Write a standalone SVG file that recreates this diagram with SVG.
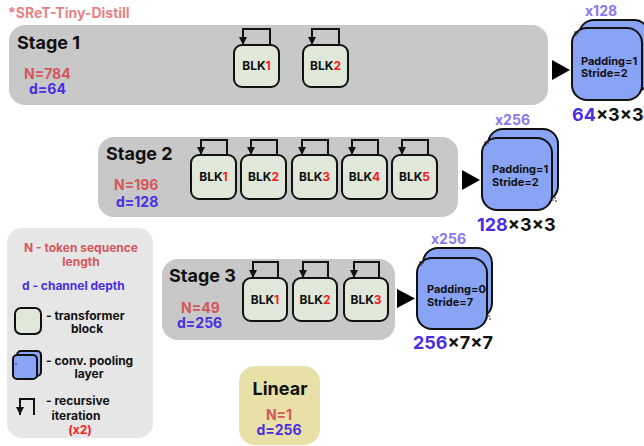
<svg xmlns="http://www.w3.org/2000/svg" width="644" height="446" viewBox="0 0 644 446">
  <style>
    text { font-family: Inter, "Liberation Sans", sans-serif; font-weight: 700; }
    .panel { fill: #c8c8c8; }
    .stage { font-size: 18px; fill: #111; }
    .n { font-size: 14px; fill: #d4575a; }
    .d { font-size: 14px; fill: #4a2ee0; }
    .blk { fill: #dfe8d9; stroke: #111; stroke-width: 2; }
    .blkt { font-size: 12px; fill: #111; text-anchor: middle; }
    .idx { fill: #ff1a1a; }
    .loop { fill: none; stroke: #111; stroke-width: 2; marker-end: url(#ah); }
    .conv { fill: #89a3f5; stroke: #111; stroke-width: 2; }
    .convt { font-size: 11px; fill: #111; }
    .rep { font-size: 14px; fill: #8a78f0; }
    .dim { font-size: 18px; fill: #111; }
    .dimb { fill: #4a2ee0; }
    .tri { fill: #000; }
    .dot { fill: #111; }
    .leg { font-size: 12px; fill: #111; }
    .leg-n { font-size: 12px; fill: #d4575a; }
    .leg-d { font-size: 12px; fill: #4a2ee0; }
    .leg-r { font-size: 12px; fill: #ff1a1a; }
  </style>
  <defs>
    <marker id="ah" markerUnits="userSpaceOnUse" markerWidth="10" markerHeight="10" refX="8" refY="4" orient="auto">
      <path d="M0,0 L8,4 L0,8 Z" fill="#111"/>
    </marker>
  </defs>

  <text x="8" y="18" font-size="14" fill="#e58282">*SReT-Tiny-Distill</text>

  <!-- Stage 1 -->
  <g id="stage1">
    <rect class="panel" x="9" y="25" width="539" height="80" rx="16"/>
    <text class="stage" x="17" y="49">Stage 1</text>
    <text class="n" x="24" y="79">N=784</text>
    <text class="d" x="29" y="94">d=64</text>
  </g>
  <g id="s1-blk1">
    <rect class="blk" x="234" y="45" width="45" height="42" rx="8"/>
    <text class="blkt" x="256.5" y="70">BLK<tspan class="idx">1</tspan></text>
  </g>
  <g id="s1-blk2">
    <rect class="blk" x="303" y="45" width="45" height="42" rx="8"/>
    <text class="blkt" x="325.5" y="70">BLK<tspan class="idx">2</tspan></text>
  </g>
  <g id="pool1">
    <rect class="conv" x="579" y="20" width="70" height="72" rx="15"/>
    <rect class="conv" x="572" y="28" width="70" height="72" rx="15"/>
    <circle class="dot" cx="576" cy="35" r="0.8"/><circle class="dot" cx="578" cy="33" r="0.8"/><circle class="dot" cx="575" cy="32" r="0.8"/>
    <text class="convt" x="581" y="65">Padding=1</text>
    <text class="convt" x="581" y="77">Stride=2</text>
    <text class="rep" x="585" y="16">x128</text>
    <text class="dim" x="572" y="121"><tspan class="dimb">64</tspan>×3×3</text>
  </g>

  <!-- Stage 2 -->
  <g id="stage2">
    <rect class="panel" x="98" y="137" width="360" height="80" rx="16"/>
    <text class="stage" x="106" y="160">Stage 2</text>
    <text class="n" x="114" y="190">N=196</text>
    <text class="d" x="116" y="207">d=128</text>
  </g>
  <g id="s2-blk1">
    <rect class="blk" x="191" y="155" width="45" height="44" rx="8"/>
    <text class="blkt" x="213.5" y="181">BLK<tspan class="idx">1</tspan></text>
  </g>
  <g id="s2-blk2">
    <rect class="blk" x="241" y="155" width="45" height="44" rx="8"/>
    <text class="blkt" x="263.5" y="181">BLK<tspan class="idx">2</tspan></text>
  </g>
  <g id="s2-blk3">
    <rect class="blk" x="292" y="155" width="45" height="44" rx="8"/>
    <text class="blkt" x="314.5" y="181">BLK<tspan class="idx">3</tspan></text>
  </g>
  <g id="s2-blk4">
    <rect class="blk" x="342" y="155" width="45" height="44" rx="8"/>
    <text class="blkt" x="364.5" y="181">BLK<tspan class="idx">4</tspan></text>
  </g>
  <g id="s2-blk5">
    <rect class="blk" x="392" y="155" width="45" height="44" rx="8"/>
    <text class="blkt" x="414.5" y="181">BLK<tspan class="idx">5</tspan></text>
  </g>
  <g id="pool2">
    <rect class="conv" x="488" y="129" width="70" height="72" rx="15"/>
    <rect class="conv" x="482" y="138" width="70" height="72" rx="15"/>
    <circle class="dot" cx="486" cy="145" r="0.8"/><circle class="dot" cx="488" cy="143" r="0.8"/><circle class="dot" cx="485" cy="142" r="0.8"/>
    <circle class="dot" cx="555" cy="198" r="0.8"/><circle class="dot" cx="553" cy="200" r="0.8"/><circle class="dot" cx="556" cy="201" r="0.8"/>
    <text class="convt" x="492" y="173">Padding=1</text>
    <text class="convt" x="492" y="186">Stride=2</text>
    <text class="rep" x="495" y="125">x256</text>
    <text class="dim" x="477" y="231"><tspan class="dimb">128</tspan>×3×3</text>
  </g>

  <!-- Stage 3 -->
  <g id="stage3">
    <rect class="panel" x="162" y="259" width="233" height="81" rx="16"/>
    <text class="stage" x="169" y="282">Stage 3</text>
    <text class="n" x="181" y="313">N=49</text>
    <text class="d" x="177" y="328">d=256</text>
  </g>
  <g id="s3-blk1">
    <rect class="blk" x="243" y="278" width="44" height="43" rx="8"/>
    <text class="blkt" x="265" y="304">BLK<tspan class="idx">1</tspan></text>
  </g>
  <g id="s3-blk2">
    <rect class="blk" x="293" y="278" width="44" height="43" rx="8"/>
    <text class="blkt" x="315" y="304">BLK<tspan class="idx">2</tspan></text>
  </g>
  <g id="s3-blk3">
    <rect class="blk" x="344" y="278" width="44" height="43" rx="8"/>
    <text class="blkt" x="366" y="304">BLK<tspan class="idx">3</tspan></text>
  </g>
  <g id="pool3">
    <rect class="conv" x="423" y="248" width="69" height="70" rx="15"/>
    <rect class="conv" x="417" y="258" width="70" height="71" rx="15"/>
    <circle class="dot" cx="421" cy="265" r="0.8"/><circle class="dot" cx="423" cy="263" r="0.8"/><circle class="dot" cx="420" cy="262" r="0.8"/>
    <circle class="dot" cx="489" cy="316" r="0.8"/><circle class="dot" cx="487" cy="318" r="0.8"/><circle class="dot" cx="490" cy="319" r="0.8"/>
    <text class="convt" x="427" y="293">Padding=0</text>
    <text class="convt" x="427" y="305.5">Stride=7</text>
    <text class="rep" x="431" y="244">x256</text>
    <text class="dim" x="413" y="349"><tspan class="dimb">256</tspan>×7×7</text>
  </g>

  <!-- Linear head -->
  <g id="linear">
    <rect x="239" y="366" width="81" height="79" rx="16" fill="#e9e0a8"/>
    <text class="stage" x="280" y="395" text-anchor="middle">Linear</text>
    <text class="n" x="279" y="420" text-anchor="middle">N=1</text>
    <text class="d" x="279" y="434.5" text-anchor="middle">d=256</text>
  </g>

  <!-- Legend -->
  <g id="legend">
    <rect x="7" y="228" width="146" height="210" rx="15" fill="#e6e6e6"/>
    <text class="leg-n" x="81" y="252" text-anchor="middle">N - token sequence</text>
    <text class="leg-n" x="81" y="266" text-anchor="middle">length</text>
    <text class="leg-d" x="22" y="290">d - channel depth</text>
    <rect class="blk" x="15" y="308" width="26" height="26" rx="6"/>
    <text class="leg" x="46" y="320">- transformer</text>
    <text class="leg" x="87" y="333" text-anchor="middle">block</text>
    <rect class="conv" x="17" y="351" width="24" height="25" rx="4"/>
    <rect class="conv" x="13" y="355" width="24" height="24" rx="4"/>
    <circle class="dot" cx="16" cy="364" r="0.7"/>
    <text class="leg" x="46" y="365">- conv. pooling</text>
    <text class="leg" x="89" y="377.5" text-anchor="middle">layer</text>
    <path class="loop" d="M34,415 V399 H20 V415"/>
    <text class="leg" x="46" y="405">- recursive</text>
    <text class="leg" x="76" y="420" text-anchor="middle">iteration</text>
    <text class="leg-r" x="80" y="434" text-anchor="middle">(x2)</text>
  </g>

  <!-- Connectors: recursion loops and stage-to-pool arrows -->
  <g id="connectors">
    <path class="loop" d="M270,45 V29 H243 V45"/>
    <path class="loop" d="M339,45 V29 H312 V45"/>
    <path class="loop" d="M227,155 V140 H201 V155"/>
    <path class="loop" d="M277,155 V140 H251 V155"/>
    <path class="loop" d="M328,155 V140 H302 V155"/>
    <path class="loop" d="M378,155 V140 H352 V155"/>
    <path class="loop" d="M428,155 V140 H402 V155"/>
    <path class="loop" d="M278,278 V262 H253 V278"/>
    <path class="loop" d="M328,278 V262 H303 V278"/>
    <path class="loop" d="M379,278 V262 H354 V278"/>
    <path class="tri" d="M552,60 L552,80 L570,70 Z"/>
    <path class="tri" d="M462,170 L462,190 L480,180 Z"/>
    <path class="tri" d="M397,289 L397,308 L415,298.5 Z"/>
  </g>
</svg>
